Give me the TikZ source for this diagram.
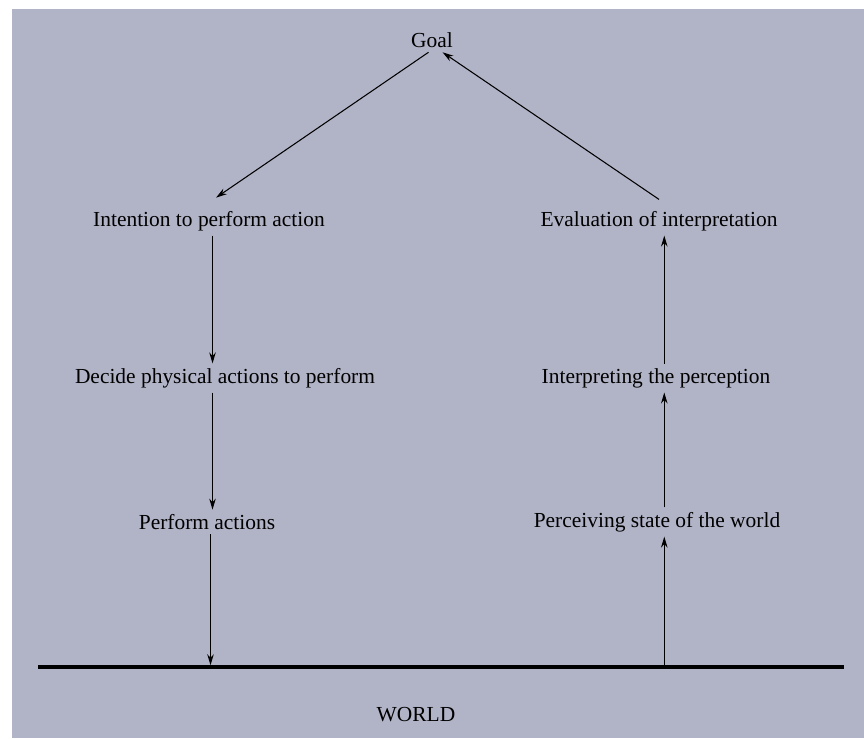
\documentclass[tikz,border=0pt]{standalone}
\usepackage{fontspec}
\setmainfont{Liberation Serif}
\usetikzlibrary{arrows.meta}
\definecolor{panel}{RGB}{177,179,199}
\begin{document}
\begin{tikzpicture}[
  x=0.02cm, y=-0.02cm,
  label/.style={inner sep=2.5pt, font=\fontsize{12.2}{15}\selectfont},
  arr/.style={-{Stealth[length=2.2mm, width=1.3mm]}, line width=0.6pt}
]
  \useasboundingbox (0,0) rectangle (864,738);
  \fill[panel] (12,9) rectangle (864,738);

  \node[label] (goal) at (432, 40) {Goal};
  \node[label] (intent) at (209, 221) {Intention to perform action};
  \node[label] (eval) at (659, 221) {Evaluation of interpretation};
  \node[label] (decide) at (225, 378) {Decide physical actions to perform};
  \node[label] (interp) at (656, 378) {Interpreting the perception};
  \node[label] (perform) at (207, 522) {Perform actions};
  \node[label] (perceive) at (657, 522) {Perceiving state of the world};
  \node[label] (world) at (416, 715) {WORLD};

  \coordinate (wl) at (38, 667);
  \coordinate (wr) at (844, 667);
  \draw[line width=2.8pt] (wl) -- (wr);

  \draw[arr] ([xshift=-2pt]goal.south) -- ([xshift=4pt, yshift=5pt]intent.north);
  \draw[arr] ([yshift=4pt]eval.north) -- ([xshift=6pt]goal.south);
  \draw[arr] ([xshift=2pt]intent.south) -- ([xshift=2pt]intent.south |- decide.north);
  \draw[arr] ([xshift=2pt]intent.south |- decide.south) -- ([xshift=2pt]intent.south |- perform.north);
  \draw[arr] ([xshift=2pt]perform.south) -- ([xshift=2pt, yshift=1pt]perform.south |- wl);
  \draw[arr] ([xshift=3pt, yshift=1pt]eval.south |- wl) -- ([xshift=3pt]eval.south |- perceive.south);
  \draw[arr] ([xshift=3pt]eval.south |- perceive.north) -- ([xshift=3pt]eval.south |- interp.south);
  \draw[arr] ([xshift=3pt]eval.south |- interp.north) -- ([xshift=3pt]eval.south);
\end{tikzpicture}
\end{document}
